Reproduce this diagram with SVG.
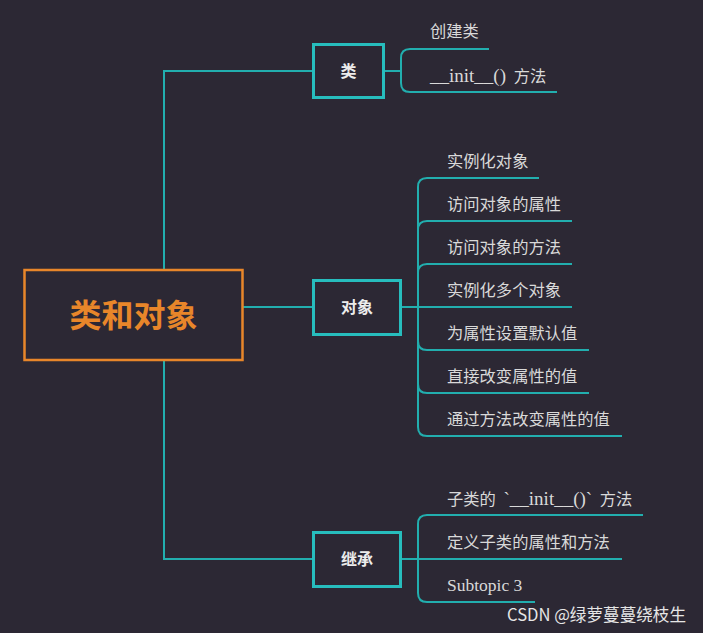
<svg xmlns="http://www.w3.org/2000/svg" width="703" height="633" viewBox="0 0 703 633">
<style>
.bg{fill:#2c2834}
.ln{fill:none;stroke:#22aeae;stroke-width:2}
.box{fill:#2c2834;stroke:#27bdbd;stroke-width:3}
.root{fill:#2c2834;stroke:#e8862a;stroke-width:2.5}
.lbl{font-family:"Noto Sans CJK SC",sans-serif;font-size:16px;font-weight:bold;fill:#ececec;text-anchor:middle}
.rt{font-family:"Noto Sans CJK SC",sans-serif;font-size:32px;font-weight:bold;fill:#e8862a;text-anchor:middle}
.t{font-family:"Noto Sans CJK SC",sans-serif;font-size:16.3px;fill:#d9d9d9}
.s{font-family:"Liberation Serif",serif;font-size:17.5px}
.s2{font-family:"Liberation Serif",serif;font-size:19px}
.wm{font-family:"Noto Sans CJK SC",sans-serif;font-size:16.6px;fill:#e6e6e6}
</style>
<rect class="bg" x="0" y="0" width="703" height="633"/>
<g id="connectors">
<path class="ln" d="M313 71 H164 V559 H313"/>
<path class="ln" d="M243 307 H313"/>
<path class="ln" d="M384 71 H401"/>
<path class="ln" d="M489 49 H410 Q401 49 401 58 V83 Q401 92 410 92 H557"/>
<path class="ln" d="M401 307 H572"/>
<path class="ln" d="M539 178 H427 Q418 178 418 187 V427 Q418 436 427 436 H622"/>
<path class="ln" d="M418 230 Q418 221 427 221 H572"/>
<path class="ln" d="M418 273 Q418 264 427 264 H572"/>
<path class="ln" d="M418 341 Q418 350 427 350 H589"/>
<path class="ln" d="M418 384 Q418 393 427 393 H589"/>
<path class="ln" d="M401 559 H622"/>
<path class="ln" d="M643 515 H427 Q418 515 418 524 V593 Q418 602 427 602 H535"/>
</g>
<g id="root">
<rect class="root" x="24.5" y="270" width="218" height="90"/>
<text class="rt" x="133.5" y="327">类和对象</text>
</g>
<g id="node-lei">
<rect class="box" x="313.5" y="44.5" width="70" height="53"/>
<text class="lbl" x="348.5" y="77">类</text>
</g>
<g id="node-duixiang">
<rect class="box" x="313.5" y="280.5" width="87" height="54"/>
<text class="lbl" x="357" y="313">对象</text>
</g>
<g id="node-jicheng">
<rect class="box" x="313.5" y="532.5" width="87" height="54"/>
<text class="lbl" x="357" y="565">继承</text>
</g>
<g id="leaf-lei">
<text class="t" x="430" y="37">创建类</text>
<text class="t" x="430" y="82"><tspan class="s2">__init__()</tspan><tspan dx="4"> 方法</tspan></text>
</g>
<g id="leaf-duixiang">
<text class="t" x="447" y="167">实例化对象</text>
<text class="t" x="447" y="210">访问对象的属性</text>
<text class="t" x="447" y="253">访问对象的方法</text>
<text class="t" x="447" y="296">实例化多个对象</text>
<text class="t" x="447" y="339">为属性设置默认值</text>
<text class="t" x="447" y="382">直接改变属性的值</text>
<text class="t" x="447" y="425">通过方法改变属性的值</text>
</g>
<g id="leaf-jicheng">
<text class="t" x="447" y="505">子类的 <tspan class="s2" dx="4">`__init__()`</tspan><tspan dx="4"> 方法</tspan></text>
<text class="t" x="447" y="548">定义子类的属性和方法</text>
<text class="t" x="447" y="591"><tspan class="s">Subtopic 3</tspan></text>
</g>
<text class="wm" x="507" y="621">CSDN @绿萝蔓蔓绕枝生</text>
</svg>
